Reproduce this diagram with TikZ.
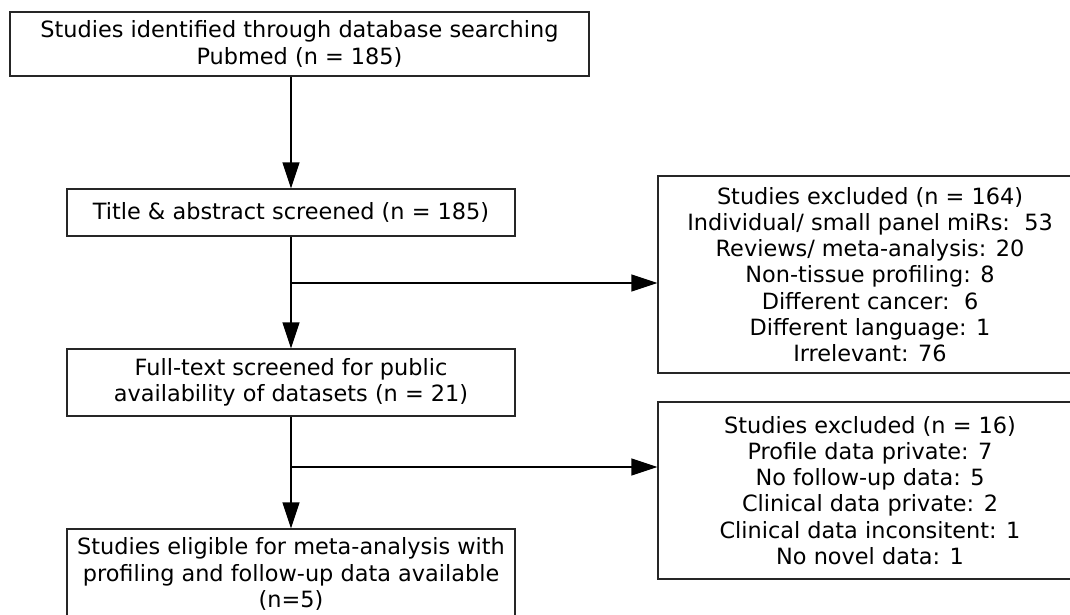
\documentclass[tikz,border=0pt]{standalone}
\usepackage{fontspec}
\setmainfont{DejaVu Sans}
\usetikzlibrary{arrows.meta,calc,positioning}

\tikzset{
  stage/.style={draw=black!85, line width=1.1pt, inner sep=0pt, align=center,
    font=\fontsize{22.4}{26.2}\selectfont},
  flow/.style={draw=black, line width=1.2pt, -{Triangle[length=26pt,width=17pt]}},
}

\begin{document}
\begin{tikzpicture}[x=1pt,y=-1pt]
        \useasboundingbox (0,0) rectangle (1070,614);
        % main column
        \node[stage, minimum width=579pt, minimum height=64pt] (ident) at (299.5,44)
          {Studies identified through database searching\\Pubmed (n = 185)};
        \node[stage, minimum width=448pt, minimum height=47pt] (screen) at (291,212.5)
          {Title \& abstract screened (n = 185)};
        \node[stage, minimum width=448pt, minimum height=67pt] (full) at (291,382.5)
          {Full-text screened for public\\availability of datasets (n = 21)};
        \node[stage, minimum width=448pt, minimum height=90pt] (elig) at (291,574)
          {Studies eligible for meta-analysis with\\profiling and follow-up data available\\(n=5)};
        % exclusions
        \node[stage, minimum width=424pt, minimum height=197pt] (exclA) at (870,274.5)
          {Studies excluded (n = 164)\\Individual/ small panel miRs:\ \ 53\\Reviews/ meta-analysis: 20\\
           Non-tissue profiling: 8\\Different cancer:\ \ 6\\Different language: 1\\Irrelevant: 76};
        \node[stage, minimum width=424pt, minimum height=177pt] (exclB) at (870,490.5)
          {Studies excluded (n = 16)\\Profile data private: 7\\No follow-up data: 5\\
           Clinical data private: 2\\Clinical data inconsitent: 1\\No novel data: 1};
        \coordinate (splitA) at (291,283);
        \coordinate (splitB) at (291,467);
        \draw[flow] (screen.north |- ident.south) -- (screen.north);
        \draw[flow] (screen) -- (full);
        \draw[flow] (full) -- (elig);
        \draw[flow] (splitA) -- (splitA -| exclA.west);
        \draw[flow] (splitB) -- (splitB -| exclB.west);
      \end{tikzpicture}
\end{document}
